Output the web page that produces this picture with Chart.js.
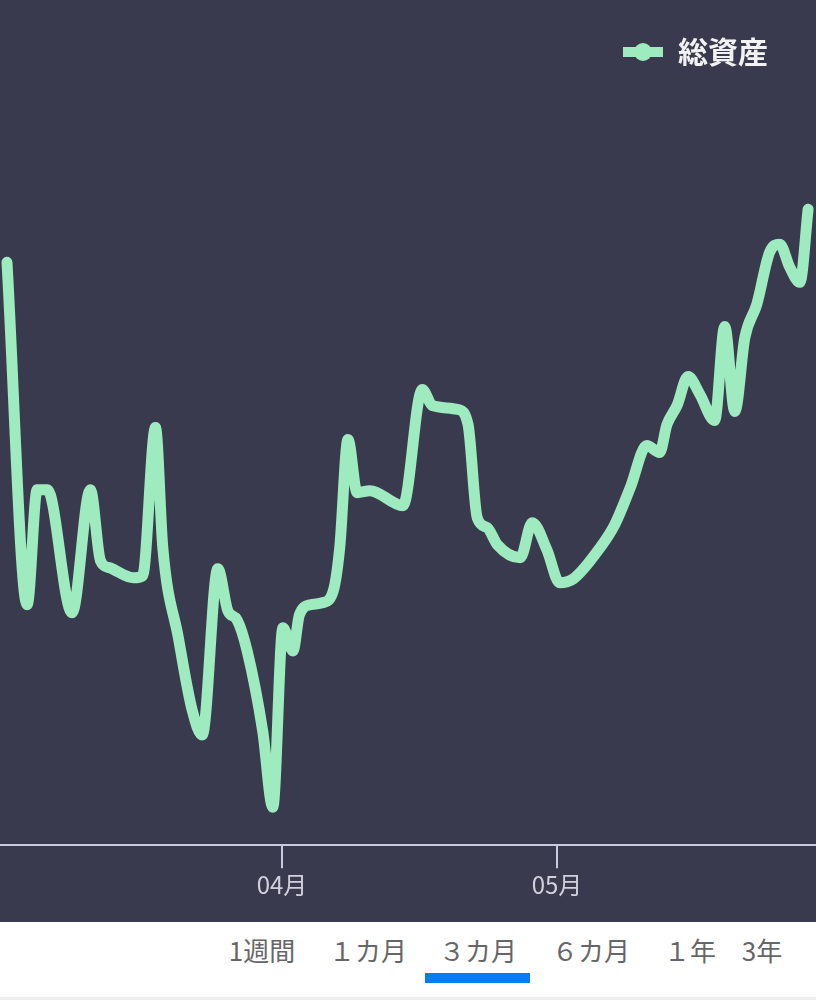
<!DOCTYPE html>
<html lang="ja">
<head>
<meta charset="utf-8">
<script src="https://cdn.jsdelivr.net/npm/chart.js@4.4.1/dist/chart.umd.min.js"></script>
<style>
  html, body { margin: 0; padding: 0; background: #fff; }
  body { width: 816px; height: 1000px; position: relative; overflow: hidden; font-family: "Noto Sans CJK JP", sans-serif; }
  #chartBox { position: absolute; left: 0; top: 0; width: 816px; height: 922px; background: #3a3a4e; }
  #periods { position: absolute; left: 0; top: 922px; width: 816px; height: 78px; }
  .period { position: absolute; top: 10px; transform: translateX(-50%); font-size: 26px; line-height: 36px; color: #666; white-space: nowrap; }
  #underline { position: absolute; left: 425px; top: 51px; width: 105px; height: 10px; background: #0a7cf0; }
  #shade { position: absolute; left: 0; bottom: 0; width: 816px; height: 3px; background: #eeeeee; }
</style>
</head>
<body>
<div id="chartBox"><canvas id="assetChart"></canvas></div>
<div id="periods"><div id="underline"></div><div id="shade"></div></div>

<script>
// 日付（3月1日 = 0 の通算日）
const days = [
  1.0, 3.2, 4.3, 5.4, 8.1, 10.1, 11.2, 12.2, 14.8, 15.8,
  17.2, 18.0, 19.7, 21.2, 22.3, 24.0, 25.1, 26.1, 27.2, 28.9,
  30.0, 31.1, 32.2, 32.9, 34.1, 35.4, 36.6, 37.3, 38.2, 39.2,
  40.6, 44.2, 46.3, 47.4, 50.2, 51.3, 52.3, 53.4, 54.5, 57.0,
  58.3, 59.9, 61.3, 62.8, 65.7, 67.3, 69.0, 70.8, 72.2, 73.0,
  74.1, 75.3, 76.6, 78.2, 79.3, 80.4, 81.5, 82.8, 84.2, 85.3,
  86.4, 87.5, 88.4
];
// 総資産（相対値）
const totalAssets = [
  582, 240, 355, 355, 232, 355, 284, 277, 267, 269,
  417, 297, 207, 135, 110, 276, 234, 225, 194, 114,
  38, 217, 194, 230, 240, 242, 254, 297, 405, 352,
  354, 339, 455, 439, 435, 420, 327, 317, 300, 287,
  322, 295, 262, 266, 297, 320, 357, 399, 392, 420,
  439, 468, 450, 424, 518, 433, 507, 540, 592, 600,
  577, 562, 635
];
const monthTicks = [31, 61];
const monthLabels = ['04月', '05月'];
const periodLabels = ['1週間', '１カ月', '３カ月', '６カ月', '１年', '3年'];
const periodCenters = [262, 368, 478, 591, 690, 762];

// 期間ボタン
const periodsDiv = document.getElementById('periods');
periodLabels.forEach((label, i) => {
  const el = document.createElement('div');
  el.className = 'period';
  el.style.left = periodCenters[i] + 'px';
  el.textContent = label;
  periodsDiv.appendChild(el);
});

// 凡例マーカー（線＋丸）
const lineColor = '#9debbe';
const marker = document.createElement('canvas');
marker.width = 42;
marker.height = 22;
const mctx = marker.getContext('2d');
mctx.fillStyle = lineColor;
mctx.fillRect(1, 6, 40, 10);
mctx.beginPath();
mctx.arc(21, 11, 9, 0, Math.PI * 2);
mctx.fill();

const axisColor = '#c8cbe0';
const ctx = document.getElementById('assetChart').getContext('2d');
const assetChart = new Chart(ctx, {
  type: 'line',
  data: {
    datasets: [{
      label: '総資産',
      data: days.map((d, i) => ({ x: d, y: totalAssets[i] })),
      borderColor: lineColor,
      backgroundColor: lineColor,
      borderWidth: 11,
      borderCapStyle: 'round',
      borderJoinStyle: 'round',
      pointRadius: 0,
      cubicInterpolationMode: 'monotone',
      fill: false
    }]
  },
  options: {
    responsive: true,
    maintainAspectRatio: false,
    animation: false,
    layout: { padding: { top: -11, bottom: 21, left: 0, right: 0 } },
    plugins: {
      tooltip: { enabled: false },
      legend: {
        position: 'top',
        align: 'end',
        labels: {
          usePointStyle: true,
          pointStyle: marker,
          pointStyleWidth: 40,
          padding: 48,
          color: '#f2f2f4',
          font: { family: '"Noto Sans CJK JP", sans-serif', size: 30, weight: 'bold' }
        }
      }
    },
    scales: {
      x: {
        type: 'linear',
        min: 0.24,
        max: 89.26,
        afterBuildTicks: (scale) => {
          scale.ticks = monthTicks.map(v => ({ value: v }));
        },
        ticks: {
          autoSkip: false,
          maxRotation: 0,
          padding: 2,
          color: '#d0d1dc',
          font: { family: '"Noto Sans CJK JP", sans-serif', size: 24 },
          callback: (value) => monthLabels[monthTicks.indexOf(value)]
        },
        grid: { drawOnChartArea: false, drawTicks: true, tickLength: 23, color: axisColor, lineWidth: 2 },
        border: { display: true, color: axisColor, width: 2 }
      },
      y: {
        display: false,
        min: 0,
        max: 767
      }
    }
  }
});
</script>
</body>
</html>
